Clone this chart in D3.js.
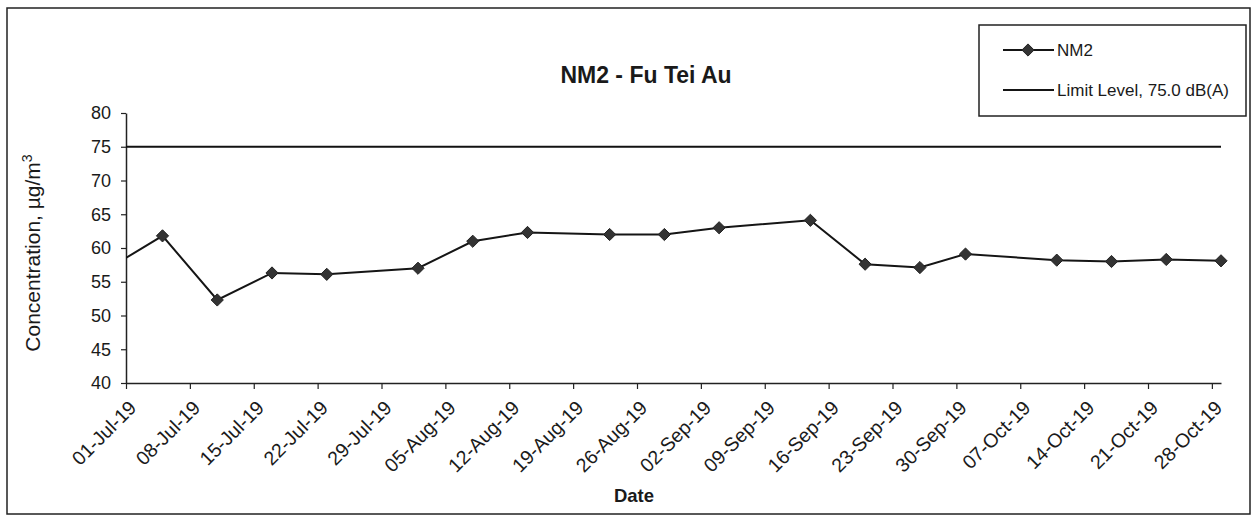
<!DOCTYPE html>
<html>
<head>
<meta charset="utf-8">
<script src="https://cdn.jsdelivr.net/npm/d3@7"></script>
<style>
  body { margin: 0; background: #fff; }
  text { font-family: "Liberation Sans", Arial, sans-serif; fill: #1a1a1a; }
</style>
</head>
<body>
<div id="chart"></div>
<script>
const WIDTH = 1256;
const HEIGHT = 517;

// NM2 readings (first one sits before the axis start and gets clipped)
const dates = ["2019-06-29", "2019-07-05", "2019-07-11", "2019-07-17", "2019-07-23",
    "2019-08-02", "2019-08-08", "2019-08-14", "2019-08-23", "2019-08-29",
    "2019-09-04", "2019-09-14", "2019-09-20", "2019-09-26", "2019-10-01",
    "2019-10-11", "2019-10-17", "2019-10-23", "2019-10-29"];
const nm2 = [56.9, 61.8, 52.3, 56.3, 56.1,
    57.0, 61.0, 62.3, 62.0, 62.0,
    63.0, 64.1, 57.6, 57.1, 59.1,
    58.2, 58.0, 58.3, 58.1];
const limitLevel = 75;
const tickLabels = ["01-Jul-19", "08-Jul-19", "15-Jul-19", "22-Jul-19", "29-Jul-19",
    "05-Aug-19", "12-Aug-19", "19-Aug-19", "26-Aug-19", "02-Sep-19", "09-Sep-19",
    "16-Sep-19", "23-Sep-19", "30-Sep-19", "07-Oct-19", "14-Oct-19", "21-Oct-19", "28-Oct-19"];
const yTicks = [40, 45, 50, 55, 60, 65, 70, 75, 80];

const parseDate = d3.timeParse("%Y-%m-%d");
const parseTick = d3.timeParse("%d-%b-%y");
const fmtTick = d3.timeFormat("%d-%b-%y");

const points = dates.map((d, i) => ({ date: parseDate(d), value: nm2[i] }));

const plot = { left: 126, right: 1221, top: 113, bottom: 383 };

const svg = d3.select("#chart")
    .append("svg")
    .attr("width", WIDTH)
    .attr("height", HEIGHT);

// outer frame
svg.append("rect")
    .attr("x", 7).attr("y", 8)
    .attr("width", 1243).attr("height", 506)
    .attr("fill", "none")
    .attr("stroke", "#222")
    .attr("stroke-width", 1.5);

const x = d3.scaleTime()
    .domain([parseTick("01-Jul-19"), parseDate("2019-10-29")])
    .range([plot.left, plot.right]);

const y = d3.scaleLinear()
    .domain([40, 80])
    .range([plot.bottom, plot.top]);

svg.append("clipPath").attr("id", "plot-clip")
    .append("rect")
    .attr("x", plot.left).attr("y", plot.top - 10)
    .attr("width", plot.right - plot.left + 10)
    .attr("height", plot.bottom - plot.top + 20);

// y axis
const yAxis = svg.append("g")
    .attr("transform", `translate(${plot.left},0)`)
    .call(d3.axisLeft(y).tickValues(yTicks).tickSize(5).tickPadding(10).tickSizeOuter(0));
yAxis.select(".domain").attr("stroke", "#222").attr("stroke-width", 1.5);
yAxis.selectAll(".tick line").attr("stroke", "#222").attr("stroke-width", 1.2);
yAxis.selectAll(".tick text")
    .attr("font-size", 18)
    .attr("font-family", "Liberation Sans, Arial, sans-serif")
    .attr("fill", "#1a1a1a");

// x axis
const xAxis = svg.append("g")
    .attr("transform", `translate(0,${plot.bottom})`)
    .call(d3.axisBottom(x)
        .tickValues(tickLabels.map(parseTick))
        .tickFormat(fmtTick)
        .tickSize(6)
        .tickSizeOuter(0));
xAxis.select(".domain").attr("stroke", "#222").attr("stroke-width", 1.5);
xAxis.selectAll(".tick line").attr("stroke", "#222").attr("stroke-width", 1.2);
xAxis.selectAll(".tick text")
    .attr("font-size", 19.5)
    .attr("font-family", "Liberation Sans, Arial, sans-serif")
    .attr("fill", "#1a1a1a")
    .attr("text-anchor", "end")
    .attr("dy", null)
    .attr("y", 0)
    .attr("transform", "translate(11,26) rotate(-45)");

// limit line
svg.append("line")
    .attr("x1", x.range()[0]).attr("x2", x.range()[1])
    .attr("y1", y(limitLevel)).attr("y2", y(limitLevel))
    .attr("stroke", "#111")
    .attr("stroke-width", 2);

// NM2 series
const lineGen = d3.line()
    .x(d => x(d.date))
    .y(d => y(d.value));

const series = svg.append("g").attr("clip-path", "url(#plot-clip)");
series.append("path")
    .datum(points)
    .attr("fill", "none")
    .attr("stroke", "#151515")
    .attr("stroke-width", 2)
    .attr("d", lineGen);

const diamond = d3.symbol().type(d3.symbolDiamond2).size(95);
series.selectAll(".marker")
    .data(points)
    .enter().append("path")
    .attr("class", "marker")
    .attr("transform", d => `translate(${x(d.date)},${y(d.value)})`)
    .attr("d", diamond)
    .attr("fill", "#333")
    .attr("stroke", "#222")
    .attr("stroke-width", 1);

// title
svg.append("text")
    .attr("x", 646).attr("y", 83)
    .attr("text-anchor", "middle")
    .attr("font-size", 23)
    .attr("font-weight", "bold")
    .text("NM2 - Fu Tei Au");

// axis titles
svg.append("text")
    .attr("x", 634).attr("y", 502)
    .attr("text-anchor", "middle")
    .attr("font-size", 18.5)
    .attr("font-weight", "bold")
    .text("Date");

const yLabel = svg.append("text")
    .attr("transform", "translate(40,253) rotate(-90)")
    .attr("text-anchor", "middle")
    .attr("font-size", 21);
yLabel.append("tspan").text("Concentration, µg/m");
yLabel.append("tspan").attr("dy", -8).attr("font-size", 14).text("3");

// legend
const legend = svg.append("g");
legend.append("rect")
    .attr("x", 979).attr("y", 25)
    .attr("width", 267).attr("height", 91)
    .attr("fill", "#fff")
    .attr("stroke", "#222")
    .attr("stroke-width", 1.5);

const legendItems = [
    { label: "NM2", y: 50, marker: true },
    { label: "Limit Level, 75.0 dB(A)", y: 90, marker: false }
];
legendItems.forEach(item => {
    legend.append("line")
        .attr("x1", 1003).attr("x2", 1054)
        .attr("y1", item.y).attr("y2", item.y)
        .attr("stroke", "#151515")
        .attr("stroke-width", 2);
    if (item.marker) {
        legend.append("path")
            .attr("transform", `translate(1028,${item.y})`)
            .attr("d", diamond)
            .attr("fill", "#333")
            .attr("stroke", "#222");
    }
    legend.append("text")
        .attr("x", 1057).attr("y", item.y + 6)
        .attr("font-size", 17)
        .text(item.label);
});
</script>
</body>
</html>
